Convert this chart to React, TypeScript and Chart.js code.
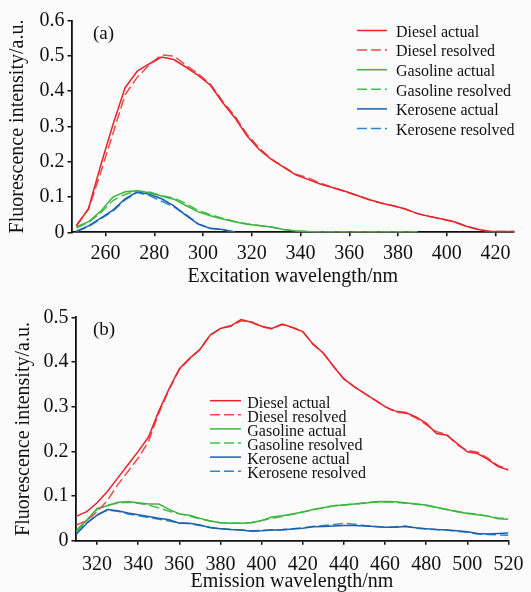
import { useEffect, useRef } from "react";
import { Chart, registerables } from "chart.js";

Chart.register(...registerables);

// ---------- Panel (a): excitation spectra ----------
const exWavelength = [
  248, 253, 258, 263, 268, 273, 278, 283, 288, 293, 298, 303, 308, 313, 318, 323, 328, 333, 338,
  343, 348, 353, 358, 363, 368, 373, 378, 383, 388, 393, 398, 403, 408, 413, 418, 423, 428,
];
const exDieselActual = [
  0.018, 0.068, 0.19, 0.305, 0.41, 0.457, 0.478, 0.497, 0.49, 0.468, 0.445, 0.417, 0.368, 0.325,
  0.274, 0.235, 0.207, 0.185, 0.163, 0.15, 0.137, 0.127, 0.117, 0.105, 0.093, 0.083, 0.075, 0.066,
  0.053, 0.045, 0.038, 0.03, 0.017, 0.008, 0.002, 0.002, 0.002,
];
const exDieselResolved = [
  0.02, 0.065, 0.17, 0.28, 0.39, 0.44, 0.475, 0.503, 0.5, 0.474, 0.45, 0.42, 0.372, 0.33, 0.278,
  0.24, 0.208, 0.186, 0.165, 0.155, 0.14, 0.128, 0.116, 0.105, 0.093, 0.083, 0.075, 0.066, 0.053,
  0.045, 0.038, 0.03, 0.017, 0.008, 0.002, 0.002, 0.002,
];
const exGasolineActual = [
  0.015, 0.03, 0.06, 0.1, 0.115, 0.118, 0.112, 0.103, 0.094, 0.076, 0.058, 0.047, 0.038, 0.03,
  0.023, 0.019, 0.015, 0.008, 0.004, 0.002, 0.001, 0.001, 0.001, 0.001, 0.001, 0.001, 0.001, 0.001,
  0.001,
];
const exGasolineResolved = [
  0.012, 0.028, 0.055, 0.09, 0.108, 0.117, 0.114, 0.104, 0.097, 0.082, 0.062, 0.05, 0.04, 0.031,
  0.024, 0.019, 0.015, 0.008, 0.004, 0.002, 0.001, 0.001, 0.001, 0.001, 0.001, 0.001, 0.001, 0.001,
  0.001,
];
const exKeroseneActual = [
  0.003, 0.018, 0.04, 0.063, 0.095, 0.115, 0.108, 0.095, 0.075, 0.048, 0.023, 0.011, 0.008, 0.001,
];
const exKeroseneResolved = [
  0.002, 0.016, 0.038, 0.06, 0.092, 0.113, 0.104, 0.088, 0.072, 0.05, 0.024, 0.012, 0.007, 0.001,
];
const exXTicks = [260, 280, 300, 320, 340, 360, 380, 400, 420];
const exXTickLabels = ["260", "280", "300", "320", "340", "360", "380", "400", "420"];
const exYTicks = [0, 0.1, 0.2, 0.3, 0.4, 0.5, 0.6];
const exYTickLabels = ["0", "0.1", "0.2", "0.3", "0.4", "0.5", "0.6"];

// ---------- Panel (b): emission spectra ----------
const emWavelength = [
  310, 315, 320, 325, 330, 335, 340, 345, 350, 355, 360, 365, 370, 375, 380, 385, 390, 395, 400,
  405, 410, 415, 420, 425, 430, 435, 440, 445, 450, 455, 460, 465, 470, 475, 480, 485, 490, 495,
  500, 505, 510, 515, 520,
];
const emDieselActual = [
  0.055, 0.065, 0.085, 0.11, 0.14, 0.17, 0.2, 0.232, 0.29, 0.34, 0.385, 0.408, 0.428, 0.46, 0.475,
  0.481, 0.495, 0.489, 0.48, 0.475, 0.485, 0.477, 0.468, 0.44, 0.42, 0.39, 0.362, 0.345, 0.33,
  0.315, 0.3, 0.29, 0.287, 0.277, 0.263, 0.24, 0.236, 0.218, 0.199, 0.195, 0.182, 0.166, 0.158,
];
const emDieselResolved = [
  0.035, 0.045, 0.065, 0.09, 0.125, 0.155, 0.185, 0.222, 0.285, 0.338, 0.383, 0.407, 0.428, 0.46,
  0.475, 0.48, 0.492, 0.49, 0.479, 0.474, 0.484, 0.477, 0.468, 0.44, 0.42, 0.39, 0.362, 0.345,
  0.33, 0.315, 0.3, 0.288, 0.285, 0.275, 0.26, 0.244, 0.238, 0.215, 0.202, 0.198, 0.185, 0.168,
  0.16,
];
const emGasolineActual = [
  0.024, 0.046, 0.072, 0.078, 0.086, 0.087, 0.085, 0.082, 0.082, 0.07, 0.06, 0.057, 0.05, 0.044,
  0.04, 0.039, 0.039, 0.04, 0.045, 0.053, 0.056, 0.06, 0.064, 0.07, 0.074, 0.078, 0.08, 0.082,
  0.084, 0.087, 0.088, 0.087, 0.085, 0.082, 0.08, 0.075, 0.07, 0.065, 0.061, 0.058, 0.055, 0.049,
  0.048,
];
const emGasolineResolved = [
  0.02, 0.045, 0.07, 0.08, 0.084, 0.086, 0.084, 0.08, 0.073, 0.066, 0.06, 0.055, 0.049, 0.044,
  0.04, 0.039, 0.039, 0.041, 0.045, 0.05, 0.054, 0.059, 0.064, 0.069, 0.074, 0.078, 0.08, 0.082,
  0.085, 0.086, 0.087, 0.086, 0.084, 0.082, 0.079, 0.074, 0.07, 0.066, 0.062, 0.059, 0.055, 0.051,
  0.05,
];
const emKeroseneActual = [
  0.015, 0.039, 0.057, 0.07, 0.067, 0.062, 0.058, 0.054, 0.05, 0.047, 0.039, 0.039, 0.035, 0.029,
  0.027, 0.025, 0.024, 0.021, 0.022, 0.024, 0.024, 0.026, 0.028, 0.031, 0.032, 0.033, 0.034,
  0.034, 0.033, 0.032, 0.03, 0.03, 0.032, 0.029, 0.027, 0.025, 0.024, 0.022, 0.02, 0.016, 0.015,
  0.016, 0.017,
];
const emKeroseneResolved = [
  0.018, 0.04, 0.058, 0.068, 0.066, 0.06, 0.056, 0.052, 0.048, 0.044, 0.04, 0.038, 0.034, 0.03,
  0.027, 0.025, 0.024, 0.022, 0.023, 0.024, 0.025, 0.027, 0.029, 0.032, 0.034, 0.036, 0.039,
  0.037, 0.034, 0.032, 0.03, 0.031, 0.033, 0.028, 0.026, 0.025, 0.024, 0.021, 0.019, 0.015, 0.014,
  0.013, 0.012,
];
const emXTicks = [320, 340, 360, 380, 400, 420, 440, 460, 480, 500, 520];
const emXTickLabels = ["320", "340", "360", "380", "400", "420", "440", "460", "480", "500", "520"];
const emYTicks = [0, 0.1, 0.2, 0.3, 0.4, 0.5];
const emYTickLabels = ["0", "0.1", "0.2", "0.3", "0.4", "0.5"];

const seriesLabels = [
  "Diesel actual",
  "Diesel resolved",
  "Gasoline actual",
  "Gasoline resolved",
  "Kerosene actual",
  "Kerosene resolved",
];

// ---------- styles ----------
const FONT = '"Liberation Serif", "Times New Roman", serif';
const INK = "#111";
const seriesColors = ["#e8232b", "#ef4a4e", "#3db43d", "#45c24a", "#1c5fae", "#2f86d0"];
const DASH = [10, 4];

type PanelSpec = {
  width: number;
  height: number;
  xWl: number[];
  series: number[][];
  xMin: number;
  xMax: number;
  yMin: number;
  yMax: number;
  xTicks: number[];
  xTickLabels: string[];
  yTicks: number[];
  yTickLabels: string[];
  xTitle: string;
  yTitle: string;
  area: { left: number; right: number; top: number; bottom: number };
  xTickPad: number;
  xTitlePadBottom: number;
  xTitleLineHeight: number;
  yTitlePadTop: number;
  overlay: any;
};

const overlayPlugin = {
  id: "overlay",
  afterDraw(chart: any, _args: any, opts: any) {
    const ctx = chart.ctx as CanvasRenderingContext2D;
    ctx.save();
    ctx.fillStyle = INK;
    ctx.textAlign = "left";
    ctx.textBaseline = "alphabetic";
    ctx.font = `${opts.labelSize}px ${FONT}`;
    ctx.fillText(opts.label, opts.labelX, opts.labelY);
    chart.data.datasets.forEach((ds: any, i: number) => {
      const y = opts.legendY + i * opts.legendGap;
      ctx.strokeStyle = ds.borderColor;
      ctx.lineWidth = 1.5;
      ctx.setLineDash(ds.borderDash || []);
      ctx.beginPath();
      ctx.moveTo(opts.lineX1, y);
      ctx.lineTo(opts.lineX2, y);
      ctx.stroke();
      ctx.setLineDash([]);
      ctx.font = `${opts.legendSize}px ${FONT}`;
      ctx.fillStyle = INK;
      ctx.fillText(ds.label, opts.textX, y + opts.textDy);
    });
    ctx.restore();
  },
};

function buildConfig(p: PanelSpec): any {
  const datasets = p.series.map((vals, i) => ({
    label: seriesLabels[i],
    data: vals.map((v, j) => ({ x: p.xWl[j], y: v })),
    borderColor: seriesColors[i],
    backgroundColor: seriesColors[i],
    borderWidth: 1.5,
    borderDash: i % 2 === 1 ? DASH : [],
    pointRadius: 0,
    tension: 0,
    fill: false,
  }));
  const tickFont = { family: FONT, size: 20 };
  const grid = {
    display: true,
    drawOnChartArea: false,
    drawTicks: true,
    tickLength: 4,
    color: INK,
    lineWidth: 1.5,
  };
  const border = { display: true, color: INK, width: 1.8 };
  return {
    type: "line",
    data: { datasets },
    options: {
      animation: false,
      responsive: false,
      maintainAspectRatio: false,
      devicePixelRatio: 1,
      layout: {
        padding: {
          left: 0,
          top: p.area.top,
          right: p.width - p.area.right,
          bottom: 0,
        },
      },
      plugins: {
        legend: { display: false },
        tooltip: { enabled: false },
        overlay: p.overlay,
      },
      scales: {
        x: {
          type: "linear",
          min: p.xMin,
          max: p.xMax,
          afterBuildTicks: (s: any) => {
            s.ticks = p.xTicks.map((v) => ({ value: v }));
          },
          afterFit: (s: any) => {
            s.height = p.height - p.area.bottom;
          },
          ticks: {
            font: tickFont,
            color: INK,
            padding: p.xTickPad,
            maxRotation: 0,
            minRotation: 0,
            autoSkip: false,
            callback: (_v: any, i: number) => p.xTickLabels[i],
          },
          grid,
          border,
          title: {
            display: true,
            text: p.xTitle,
            color: INK,
            font: { family: FONT, size: 20, lineHeight: p.xTitleLineHeight },
            padding: { top: 0, bottom: p.xTitlePadBottom },
          },
        },
        y: {
          type: "linear",
          min: p.yMin,
          max: p.yMax,
          afterBuildTicks: (s: any) => {
            s.ticks = p.yTicks.map((v) => ({ value: v }));
          },
          afterFit: (s: any) => {
            s.width = p.area.left;
          },
          ticks: {
            font: tickFont,
            color: INK,
            padding: 3,
            autoSkip: false,
            callback: (_v: any, i: number) => p.yTickLabels[i],
          },
          grid,
          border,
          title: {
            display: true,
            text: p.yTitle,
            color: INK,
            font: { family: FONT, size: 20 },
            padding: { top: p.yTitlePadTop, bottom: 0 },
          },
        },
      },
    },
    plugins: [overlayPlugin],
  };
}

const panelA: PanelSpec = {
  width: 531,
  height: 290,
  xWl: exWavelength,
  series: [
    exDieselActual,
    exDieselResolved,
    exGasolineActual,
    exGasolineResolved,
    exKeroseneActual,
    exKeroseneResolved,
  ],
  xMin: 246,
  xMax: 427.6,
  yMin: 0,
  yMax: 0.6,
  xTicks: exXTicks,
  xTickLabels: exXTickLabels,
  yTicks: exYTicks,
  yTickLabels: exYTickLabels,
  xTitle: "Excitation wavelength/nm",
  yTitle: "Fluorescence intensity/a.u.",
  area: { left: 71.5, right: 514, top: 20.7, bottom: 232.3 },
  xTickPad: 5.7,
  xTitlePadBottom: 1.7,
  xTitleLineHeight: 1.2,
  yTitlePadTop: 5.7,
  overlay: {
    label: "(a)",
    labelX: 93,
    labelY: 39,
    labelSize: 19,
    legendY: 30.5,
    legendGap: 19.6,
    lineX1: 357,
    lineX2: 387,
    textX: 396,
    textDy: 6.3,
    legendSize: 16,
  },
};

const panelB: PanelSpec = {
  width: 531,
  height: 302,
  xWl: emWavelength,
  series: [
    emDieselActual,
    emDieselResolved,
    emGasolineActual,
    emGasolineResolved,
    emKeroseneActual,
    emKeroseneResolved,
  ],
  xMin: 309.5,
  xMax: 520,
  yMin: 0,
  yMax: 0.5,
  xTicks: emXTicks,
  xTickLabels: emXTickLabels,
  yTicks: emYTicks,
  yTickLabels: emYTickLabels,
  xTitle: "Emission wavelength/nm",
  yTitle: "Fluorescence intensity/a.u.",
  area: { left: 75.5, right: 513.5, top: 27.3, bottom: 250.7 },
  xTickPad: 7.6,
  xTitlePadBottom: 0,
  xTitleLineHeight: 1,
  yTitlePadTop: 11.3,
  overlay: {
    label: "(b)",
    labelX: 93,
    labelY: 44.5,
    labelSize: 19,
    legendY: 110.7,
    legendGap: 14.1,
    lineX1: 210,
    lineX2: 241,
    textX: 247.3,
    textDy: 7,
    legendSize: 16,
  },
};

function Panel({ spec, top }: { spec: PanelSpec; top: number }) {
  const ref = useRef<HTMLCanvasElement | null>(null);
  useEffect(() => {
    if (!ref.current) return;
    const chart = new Chart(ref.current, buildConfig(spec));
    return () => chart.destroy();
  }, [spec]);
  return (
    <canvas
      ref={ref}
      width={spec.width}
      height={spec.height}
      style={{
        position: "absolute",
        left: 0,
        top,
        width: spec.width,
        height: spec.height,
        display: "block",
      }}
    />
  );
}

export default function App() {
  return (
    <div
      style={{
        position: "absolute",
        left: 0,
        top: 0,
        width: 531,
        height: 592,
        overflow: "hidden",
        background: "#fbfbfb",
      }}
    >
      <Panel spec={panelA} top={0} />
      <Panel spec={panelB} top={290} />
    </div>
  );
}
